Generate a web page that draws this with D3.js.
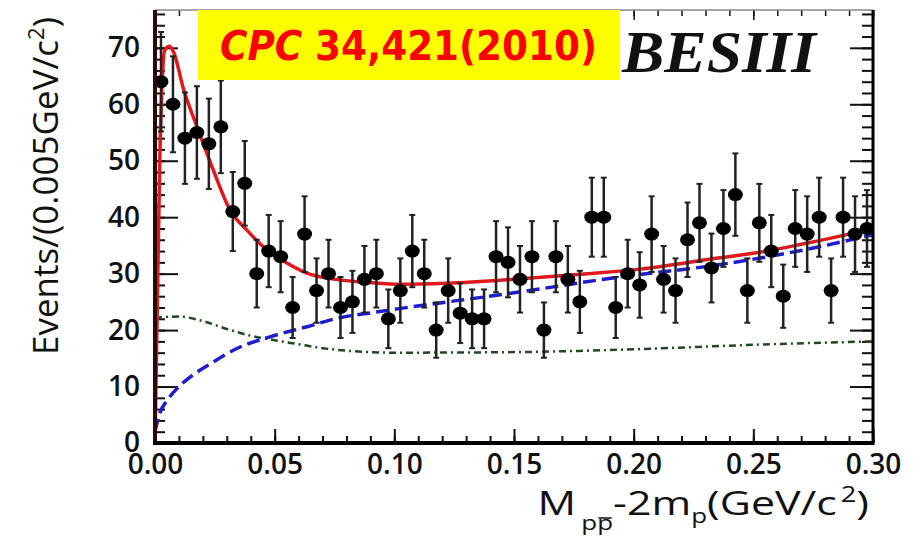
<!DOCTYPE html>
<html>
<head>
<meta charset="utf-8">
<script src="https://cdn.jsdelivr.net/npm/d3@7"></script>
<style>
  body { margin: 0; background: #fff; }
  svg { display: block; }
  .tick text { font-family: "Open Sans", sans-serif; font-size: 28px; font-weight: 600; fill: #111; }
  .tick line { stroke: #111; stroke-width: 2; }
</style>
</head>
<body>
<svg width="916" height="537"></svg>
<script>
// bin centres (GeV/c^2), 0.005 wide bins
var binCenters = [0.0025,0.0075,0.0125,0.0175,0.0225,0.0275,0.0325,0.0375,0.0425,0.0475,
  0.0525,0.0575,0.0625,0.0675,0.0725,0.0775,0.0825,0.0875,0.0925,0.0975,
  0.1025,0.1075,0.1125,0.1175,0.1225,0.1275,0.1325,0.1375,0.1425,0.1475,
  0.1525,0.1575,0.1625,0.1675,0.1725,0.1775,0.1825,0.1875,0.1925,0.1975,
  0.2025,0.2075,0.2125,0.2175,0.2225,0.2275,0.2325,0.2375,0.2425,0.2475,
  0.2525,0.2575,0.2625,0.2675,0.2725,0.2775,0.2825,0.2875,0.2925,0.2975];
var events = [64,60,54,55,53,56,41,46,30,34,
  33,24,37,27,30,24,25,29,30,22,
  27,34,30,20,27,23,22,22,33,32,
  29,33,20,33,29,25,40,40,24,30,
  28,37,29,27,36,39,31,38,44,27,
  39,34,26,38,37,40,27,40,37,38];
var errors = [8.8,8.5,8.1,8.2,8.0,8.2,7.0,7.5,6.0,6.4,
  6.3,5.4,6.7,5.7,6.0,5.4,5.5,5.9,6.0,5.2,
  5.7,6.4,6.0,4.9,5.7,5.3,5.2,5.2,6.3,6.2,
  5.9,6.3,4.9,6.3,5.9,5.5,7.0,7.0,5.4,6.0,
  5.8,6.7,5.9,5.7,6.6,6.9,6.1,6.8,7.3,5.7,
  6.9,6.4,5.6,6.8,6.7,7.0,5.7,7.0,6.7,6.8];

// fit curves: [mass, events]
var totalFit = [[0,0],[0.001,25],[0.002,50],[0.003,64],[0.004,69.5],[0.006,70.3],[0.008,69],
  [0.0117,63],[0.018,55.5],[0.0243,48.4],[0.0313,41.3],[0.0384,37.7],[0.0468,34.2],
  [0.0551,31.9],[0.0635,30.1],[0.0719,29.2],[0.091,28.4],[0.102,28.1],[0.122,28.3],
  [0.15,29.0],[0.178,29.9],[0.203,30.8],[0.236,32.8],[0.25,33.6],[0.27,35.2],[0.29,37],[0.30,38]];
var background = [[0,2],[0.002,5.3],[0.005,7.5],[0.01,10],[0.015,11.8],[0.023,14],[0.0355,17],
  [0.048,18.8],[0.0635,20.6],[0.0773,22.2],[0.091,23.1],[0.102,23.8],[0.15,26.6],
  [0.194,29.4],[0.236,31.6],[0.278,34.8],[0.30,36.9]];
var threshold = [[0,22.2],[0.01,22.4],[0.02,21.6],[0.03,20.2],[0.04,19.0],[0.05,18.2],[0.06,17.5],
  [0.07,16.8],[0.085,16.2],[0.10,16.0],[0.15,16.1],[0.20,16.6],[0.25,17.4],[0.30,18.0]];

var xTicks = [0, 0.05, 0.10, 0.15, 0.20, 0.25, 0.30];
var yTicks = [0, 10, 20, 30, 40, 50, 60, 70];

var svg = d3.select("svg"),
    padL = 155, padR = 873, padT = 10, padB = 443;

var x = d3.scaleLinear().domain([0, 0.3]).range([padL, padR]);
var y = d3.scaleLinear().domain([0, 76.7]).range([padB, padT]);

svg.append("defs").append("clipPath").attr("id", "plotclip")
  .append("rect").attr("x", padL).attr("y", padT).attr("width", padR - padL).attr("height", padB - padT);

// minor ticks
svg.append("g").attr("transform", "translate(" + padL + ",0)")
  .call(d3.axisLeft(y).tickValues(d3.range(0, 77, 2)).tickFormat("").tickSizeInner(-10).tickSizeOuter(0))
  .call(g => g.select(".domain").remove());
svg.append("g").attr("transform", "translate(" + padR + ",0)")
  .call(d3.axisRight(y).tickValues(d3.range(0, 77, 2)).tickFormat("").tickSizeInner(-11).tickSizeOuter(0))
  .call(g => g.select(".domain").remove());
svg.append("g").attr("transform", "translate(0," + padB + ")")
  .call(d3.axisBottom(x).tickValues(d3.range(0, 0.301, 0.01)).tickFormat("").tickSizeInner(-7).tickSizeOuter(0))
  .call(g => g.select(".domain").remove());
svg.append("g").attr("transform", "translate(0," + padT + ")")
  .call(d3.axisTop(x).tickValues(d3.range(0, 0.301, 0.01)).tickFormat("").tickSizeInner(-6).tickSizeOuter(0))
  .call(g => g.select(".domain").remove())
  .selectAll("line").style("stroke-width", 1.5);

// major ticks + labels
svg.append("g").attr("transform", "translate(" + padL + ",0)")
  .call(d3.axisLeft(y).tickValues(yTicks).tickFormat(d3.format("d")).tickSizeInner(-23).tickSizeOuter(0).tickPadding(15))
  .call(g => g.select(".domain").remove());
svg.append("g").attr("transform", "translate(" + padR + ",0)")
  .call(d3.axisRight(y).tickValues(yTicks).tickFormat("").tickSizeInner(-23).tickSizeOuter(0))
  .call(g => g.select(".domain").remove());
svg.append("g").attr("transform", "translate(0," + padB + ")")
  .call(d3.axisBottom(x).tickValues(xTicks).tickFormat(d3.format(".2f")).tickSizeInner(-14).tickSizeOuter(0).tickPadding(11))
  .call(g => g.select(".domain").remove());
svg.append("g").attr("transform", "translate(0," + padT + ")")
  .call(d3.axisTop(x).tickValues(xTicks).tickFormat("").tickSizeInner(-10).tickSizeOuter(0))
  .call(g => g.select(".domain").remove())
  .selectAll("line").style("stroke-width", 1.5);

// curves
var line = d3.line().x(d => x(d[0])).y(d => y(d[1])).curve(d3.curveMonotoneX);
var curves = svg.append("g").attr("clip-path", "url(#plotclip)");
curves.append("path").attr("d", line(threshold))
  .attr("fill", "none").attr("stroke", "#1f4a1f").attr("stroke-width", 2.5)
  .attr("stroke-dasharray", "7,4,2,4");
curves.append("path").attr("d", line(background))
  .attr("fill", "none").attr("stroke", "#1c1cd0").attr("stroke-width", 3.5)
  .attr("stroke-dasharray", "13,6");
curves.append("path").attr("d", line(totalFit))
  .attr("fill", "none").attr("stroke", "#e3181c").attr("stroke-width", 3.5);

// data points
var pts = svg.append("g").attr("clip-path", "url(#plotclip)");
var pt = pts.selectAll(".pt").data(events).enter().append("g").attr("class", "pt");
pt.append("line")
  .attr("x1", (d, i) => x(binCenters[i])).attr("x2", (d, i) => x(binCenters[i]))
  .attr("y1", (d, i) => y(d + errors[i])).attr("y2", (d, i) => y(d - errors[i]))
  .attr("stroke", "#222").attr("stroke-width", 2.5);
[1, -1].forEach(function(s) {
  pt.append("line")
    .attr("x1", (d, i) => x(binCenters[i]) - 3).attr("x2", (d, i) => x(binCenters[i]) + 3)
    .attr("y1", (d, i) => y(d + s * errors[i])).attr("y2", (d, i) => y(d + s * errors[i]))
    .attr("stroke", "#222").attr("stroke-width", 2);
});
pt.append("ellipse")
  .attr("cx", (d, i) => x(binCenters[i])).attr("cy", d => y(d))
  .attr("rx", 7.5).attr("ry", 6.5).attr("fill", "#000");

// frame
svg.append("line").attr("x1", padL).attr("x2", padR).attr("y1", padT).attr("y2", padT)
  .attr("stroke", "#888").attr("stroke-width", 1.5);
svg.append("line").attr("x1", padR).attr("x2", padR).attr("y1", padT).attr("y2", padB)
  .attr("stroke", "#000").attr("stroke-width", 3);
svg.append("line").attr("x1", padL).attr("x2", padL).attr("y1", padT).attr("y2", padB + 2)
  .attr("stroke", "#2a0808").attr("stroke-width", 4);
svg.append("line").attr("x1", padL - 2).attr("x2", padR + 1.5).attr("y1", padB).attr("y2", padB)
  .attr("stroke", "#000").attr("stroke-width", 4);

// axis titles
var yt = svg.append("text")
  .attr("transform", "translate(58,186) rotate(-90)")
  .attr("text-anchor", "middle")
  .style("font-family", "Open Sans, sans-serif").style("font-size", "35px").style("fill", "#111");
yt.append("tspan").text("Events/(0.005GeV/c");
yt.append("tspan").attr("dy", -14).style("font-size", "22px").text("2");
yt.append("tspan").attr("dy", 14).text(")");

// the picture is stretched sideways, so the x title is widened to match
var xtPos = "translate(869,515) scale(1.3,1)";
var xt = svg.append("text")
  .attr("transform", xtPos)
  .attr("text-anchor", "end")
  .style("font-family", "Open Sans, sans-serif").style("font-size", "33px").style("fill", "#111");
xt.append("tspan").text("M");
xt.append("tspan").attr("dx", 4).attr("dy", 15).style("font-size", "20px").text("pp");
xt.append("tspan").attr("dy", -15).text("-2m");
xt.append("tspan").attr("dy", 8).style("font-size", "20px").text("p");
xt.append("tspan").attr("dy", -8).text("(GeV/c");
xt.append("tspan").attr("dx", 3).attr("dy", -13).style("font-size", "21px").text("2");
xt.append("tspan").attr("dy", 13).text(")");
// bar over the second p of the subscript
var node = xt.node();
var p0 = node.getStartPositionOfChar(2), p1 = node.getEndPositionOfChar(2);
svg.append("line")
  .attr("transform", xtPos)
  .attr("x1", p0.x + 1).attr("x2", p1.x - 1)
  .attr("y1", 3).attr("y2", 3).attr("stroke", "#111").attr("stroke-width", 1.5);

// yellow citation box
svg.append("rect").attr("x", 198).attr("y", 10).attr("width", 422).attr("height", 70).attr("fill", "#ffff00");
var cite = svg.append("text").attr("x", 220).attr("y", 60)
  .attr("textLength", 377).attr("lengthAdjust", "spacingAndGlyphs")
  .style("font-family", "DejaVu Sans, sans-serif").style("font-weight", "bold")
  .style("font-size", "40px").style("fill", "#ff0000");
cite.append("tspan").style("font-style", "italic").text("CPC");
cite.append("tspan").text(" 34,421(2010)");

svg.append("text").attr("x", 622).attr("y", 72)
  .attr("textLength", 194).attr("lengthAdjust", "spacingAndGlyphs")
  .style("font-family", "Liberation Serif, serif").style("font-weight", "bold").style("font-style", "italic")
  .style("font-size", "60px").style("fill", "#111").text("BESIII");
</script>
</body>
</html>
